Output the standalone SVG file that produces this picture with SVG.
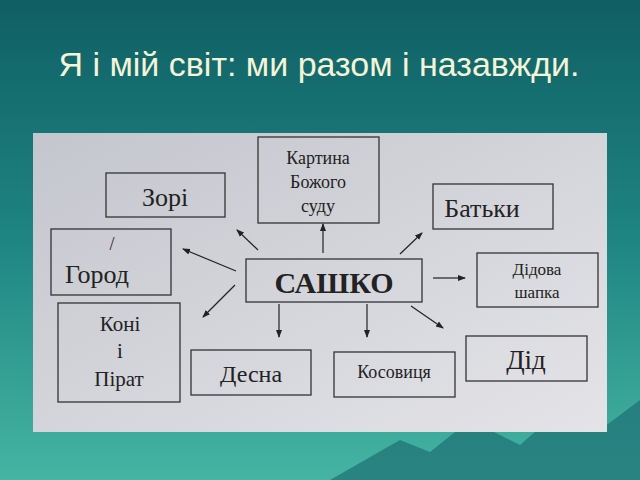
<svg xmlns="http://www.w3.org/2000/svg" width="640" height="480" viewBox="0 0 640 480">
<defs>
<linearGradient id="bg" x1="0" y1="0" x2="0" y2="1"><stop offset="0" stop-color="#0f5f63"/><stop offset="0.5" stop-color="#1f8583"/><stop offset="1" stop-color="#45b5a2"/></linearGradient>
<linearGradient id="ph" x1="0" y1="0" x2="1" y2="1"><stop offset="0" stop-color="#c4c6cd"/><stop offset="1" stop-color="#e4e4e8"/></linearGradient>
<marker id="ah" markerWidth="8" markerHeight="8" refX="7" refY="4" orient="auto" markerUnits="userSpaceOnUse"><path d="M0,1 L8,4 L0,7 Z" fill="#222"/></marker>
<style>
.b{fill:none;stroke:#333;stroke-width:1.3}
.t{font-family:"Liberation Serif","Times New Roman",serif;fill:#222;text-anchor:middle}
.c line{stroke:#222;stroke-width:1.2;marker-end:url(#ah)}
</style>
</defs>
<rect width="640" height="480" fill="url(#bg)"/>
<path d="M330,480 L400,440 L430,452 L470,420 L520,445 L560,410 L600,430 L640,400 L640,480 Z" fill="#1c6f73" opacity="0.7"/>
<text x="319" y="76" font-family="Liberation Sans,sans-serif" font-size="34" fill="#f4f4d8" text-anchor="middle">Я і мій світ: ми разом і назавжди.</text>
<rect x="33" y="133" width="574" height="299" fill="url(#ph)"/>
<g id="kartyna"><rect class="b" x="258" y="137" width="121" height="86"/><text class="t" font-size="18" x="318" y="164">Картина</text><text class="t" font-size="18" x="318" y="188">Божого</text><text class="t" font-size="18" x="318" y="212">суду</text></g>
<g id="zori"><rect class="b" x="106" y="173" width="119" height="44"/><text class="t" font-size="26" x="165" y="206">Зорі</text></g>
<g id="batky"><rect class="b" x="433" y="184" width="120" height="45"/><text class="t" font-size="26" x="482" y="217">Батьки</text></g>
<g id="horod"><rect class="b" x="51" y="229" width="120" height="66"/><text class="t" font-size="18" x="112" y="250">/</text><text class="t" font-size="26" x="97" y="283">Город</text></g>
<g id="sashko"><rect class="b" x="246" y="259" width="176" height="43"/><text class="t" font-size="30" font-weight="bold" x="334" y="293">САШКО</text></g>
<g id="didova"><rect class="b" x="477" y="253" width="121" height="54"/><text class="t" font-size="17" x="537" y="275">Дідова</text><text class="t" font-size="17" x="537" y="298">шапка</text></g>
<g id="koni"><rect class="b" x="58" y="303" width="122" height="99"/><text class="t" font-size="21" x="120" y="331">Коні</text><text class="t" font-size="21" x="120" y="358">і</text><text class="t" font-size="21" x="119" y="386">Пірат</text></g>
<g id="desna"><rect class="b" x="191" y="350" width="120" height="45"/><text class="t" font-size="24" x="251" y="382">Десна</text></g>
<g id="kosovytsia"><rect class="b" x="334" y="352" width="121" height="45"/><text class="t" font-size="18" x="394" y="378">Косовиця</text></g>
<g id="did"><rect class="b" x="466" y="336" width="121" height="45"/><text class="t" font-size="27" x="526" y="369">Дід</text></g>
<g class="c" id="connectors">
<line x1="258" y1="250" x2="237" y2="230"/>
<line x1="323" y1="253" x2="323" y2="224"/>
<line x1="400" y1="254" x2="422" y2="233"/>
<line x1="236" y1="271" x2="183" y2="249"/>
<line x1="235" y1="285" x2="203" y2="317"/>
<line x1="279" y1="304" x2="279" y2="337"/>
<line x1="367" y1="304" x2="367" y2="337"/>
<line x1="411" y1="306" x2="443" y2="328"/>
<line x1="433" y1="278" x2="465" y2="278"/>
</g>
</svg>
